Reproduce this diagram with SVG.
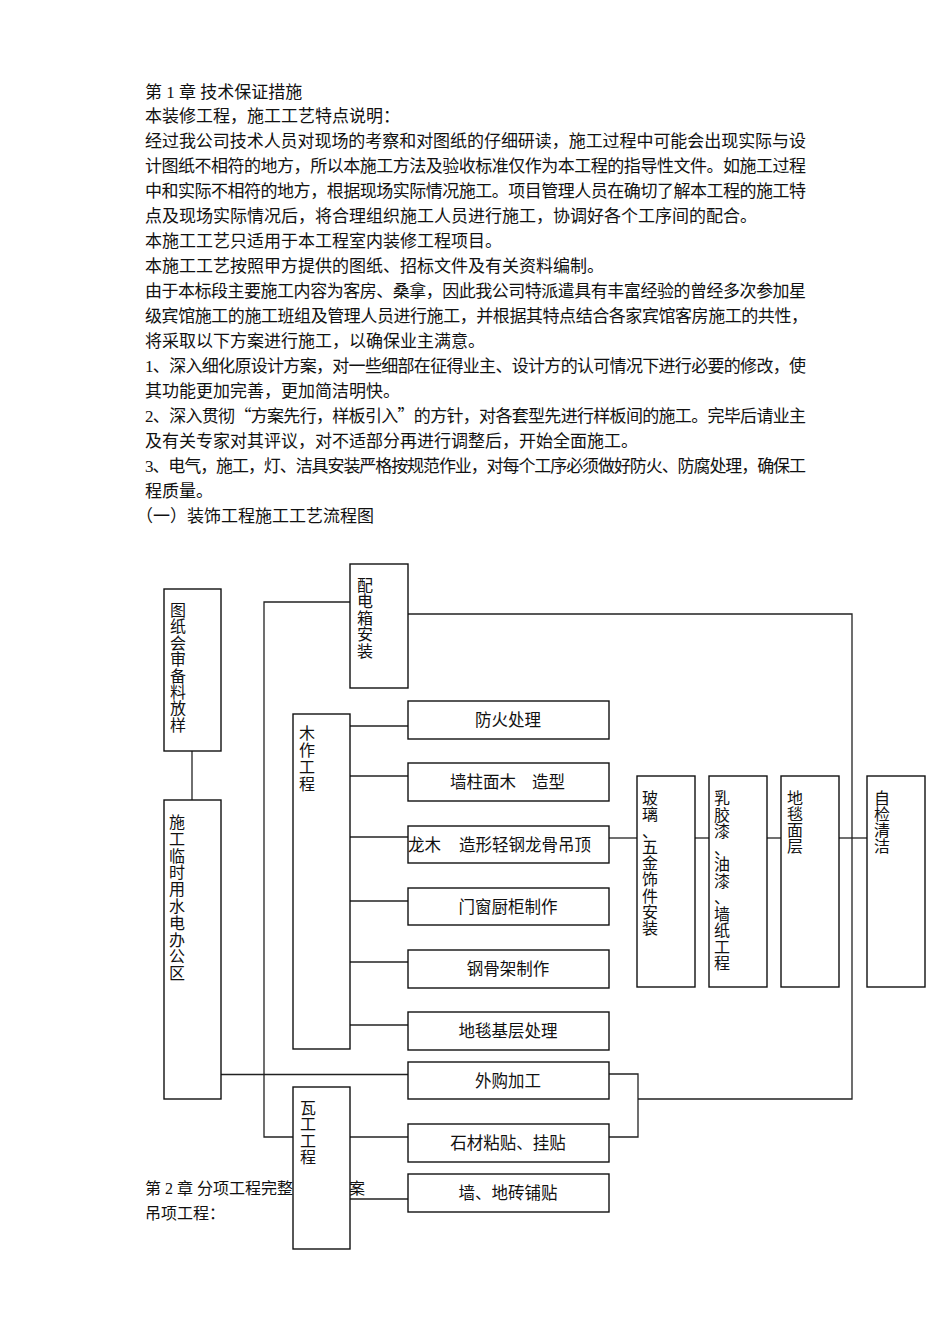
<svg xmlns="http://www.w3.org/2000/svg" width="950" height="1344" viewBox="0 0 950 1344">
<style>
.t{font-family:"Liberation Serif","Noto Sans CJK SC",serif;font-size:17px;fill:#111}
.b{font-family:"Liberation Serif","Noto Sans CJK SC",serif;font-size:16.5px;fill:#111}
.v{font-family:"Liberation Serif","Noto Sans CJK SC",serif;font-size:16px;fill:#111;text-anchor:middle}
.cj{font-family:"Noto Sans CJK SC",sans-serif}
.c{text-anchor:middle}
.box{fill:#fff;stroke:#111;stroke-width:1.4}
.ln{fill:none;stroke:#222;stroke-width:1.3}
</style>
<rect width="950" height="1344" fill="#fff"/>
<g id="body-text">
<text class="t" x="145" y="97.5">第 1 章 技术保证措施</text>
<text class="t" x="145" y="122.4">本装修工程，施工工艺特点说明：</text>
<text class="t" x="145" y="147.4" textLength="661" lengthAdjust="spacing">经过我公司技术人员对现场的考察和对图纸的仔细研读，施工过程中可能会出现实际与设</text>
<text class="t" x="145" y="172.3" textLength="661" lengthAdjust="spacing">计图纸不相符的地方，所以本施工方法及验收标准仅作为本工程的指导性文件。如施工过程</text>
<text class="t" x="145" y="197.3" textLength="661" lengthAdjust="spacing">中和实际不相符的地方，根据现场实际情况施工。项目管理人员在确切了解本工程的施工特</text>
<text class="t" x="145" y="222.2">点及现场实际情况后，将合理组织施工人员进行施工，协调好各个工序间的配合。</text>
<text class="t" x="145" y="247.1">本施工工艺只适用于本工程室内装修工程项目。</text>
<text class="t" x="145" y="272.1">本施工工艺按照甲方提供的图纸、招标文件及有关资料编制。</text>
<text class="t" x="145" y="297" textLength="661" lengthAdjust="spacing">由于本标段主要施工内容为客房、桑拿，因此我公司特派遣具有丰富经验的曾经多次参加星</text>
<text class="t" x="145" y="322" textLength="663" lengthAdjust="spacing">级宾馆施工的施工班组及管理人员进行施工，并根据其特点结合各家宾馆客房施工的共性，</text>
<text class="t" x="145" y="346.9">将采取以下方案进行施工，以确保业主满意。</text>
<text class="t" x="145" y="371.8" textLength="661" lengthAdjust="spacing">1、深入细化原设计方案，对一些细部在征得业主、设计方的认可情况下进行必要的修改，使</text>
<text class="t" x="145" y="396.8">其功能更加完善，更加简洁明快。</text>
<text class="t" x="145" y="421.7" textLength="661" lengthAdjust="spacing">2、深入贯彻<tspan class="cj">“</tspan>方案先行，样板引入<tspan class="cj">”</tspan>的方针，对各套型先进行样板间的施工。完毕后请业主</text>
<text class="t" x="145" y="446.7">及有关专家对其评议，对不适部分再进行调整后，开始全面施工。</text>
<text class="t" x="145" y="471.6" textLength="661" lengthAdjust="spacing">3、电气，施工，灯、洁具安装严格按规范作业，对每个工序必须做好防火、防腐处理，确保工</text>
<text class="t" x="145" y="496.5">程质量。</text>
<text class="t" x="136" y="521.5">（一）装饰工程施工工艺流程图</text>
<text class="t" x="145" y="1194" style="font-size:16px">第 2 章 分项工程完整</text>
<text class="t" x="349" y="1194" style="font-size:16px">案</text>
<text class="t" x="145" y="1219" style="font-size:16px">吊项工程：</text>
</g>
<g id="connectors">
<line class="ln" x1="192" y1="751" x2="192" y2="800"/>
<line class="ln" x1="221" y1="1074.5" x2="408" y2="1074.5"/>
<polyline class="ln" points="350,602 264,602 264,1137 293,1137"/>
<polyline class="ln" points="408,614 852,614 852,1099 638,1099"/>
<polyline class="ln" points="609,1074 638,1074 638,1137 609,1137"/>
<line class="ln" x1="350" y1="726" x2="408" y2="726"/>
<line class="ln" x1="350" y1="776" x2="408" y2="776"/>
<line class="ln" x1="350" y1="837" x2="408" y2="837"/>
<line class="ln" x1="350" y1="901" x2="408" y2="901"/>
<line class="ln" x1="350" y1="962" x2="408" y2="962"/>
<line class="ln" x1="350" y1="1025" x2="408" y2="1025"/>
<line class="ln" x1="350" y1="1137" x2="408" y2="1137"/>
<line class="ln" x1="350" y1="1199" x2="408" y2="1199"/>
<line class="ln" x1="609" y1="838" x2="637" y2="838"/>
<line class="ln" x1="695" y1="838" x2="709" y2="838"/>
<line class="ln" x1="767" y1="838" x2="781" y2="838"/>
<line class="ln" x1="839" y1="838" x2="867" y2="838"/>
</g>
<g id="n-tuzhi">
<rect class="box" x="164" y="589" width="57" height="162"/>
<text class="v" x="178"><tspan x="178" y="616">图</tspan><tspan x="178" y="632.4">纸</tspan><tspan x="178" y="648.8">会</tspan><tspan x="178" y="665.2">审</tspan><tspan x="178" y="681.6">备</tspan><tspan x="178" y="698">料</tspan><tspan x="178" y="714.4">放</tspan><tspan x="178" y="730.8">样</tspan></text>
</g>
<g id="n-linshi">
<rect class="box" x="164" y="800" width="57" height="299"/>
<text class="v" x="177"><tspan x="177" y="828">施</tspan><tspan x="177" y="844.8">工</tspan><tspan x="177" y="861.6">临</tspan><tspan x="177" y="878.4">时</tspan><tspan x="177" y="895.2">用</tspan><tspan x="177" y="912">水</tspan><tspan x="177" y="928.8">电</tspan><tspan x="177" y="945.6">办</tspan><tspan x="177" y="962.4">公</tspan><tspan x="177" y="979.2">区</tspan></text>
</g>
<g id="n-peidian">
<rect class="box" x="350" y="564" width="58" height="124"/>
<text class="v" x="365"><tspan x="365" y="591">配</tspan><tspan x="365" y="607.4">电</tspan><tspan x="365" y="623.8">箱</tspan><tspan x="365" y="640.2">安</tspan><tspan x="365" y="656.6">装</tspan></text>
</g>
<g id="n-muzuo">
<rect class="box" x="293" y="714" width="57" height="335"/>
<text class="v" x="307"><tspan x="307" y="739">木</tspan><tspan x="307" y="756">作</tspan><tspan x="307" y="773">工</tspan><tspan x="307" y="790">程</tspan></text>
</g>
<g id="n-wagong">
<rect class="box" x="293" y="1087" width="57" height="162"/>
<text class="v" x="308"><tspan x="308" y="1114">瓦</tspan><tspan x="308" y="1130.4">工</tspan><tspan x="308" y="1146.8">工</tspan><tspan x="308" y="1163.2">程</tspan></text>
</g>
<g id="n-fanghuo">
<rect class="box" x="408" y="701" width="201" height="38"/>
<text class="b c" x="508" y="726">防火处理</text>
</g>
<g id="n-qiangzhu">
<rect class="box" x="408" y="763" width="201" height="38"/>
<text class="b" x="450" y="788">墙柱面木</text>
<text class="b" x="532" y="788">造型</text>
</g>
<g id="n-longgu">
<rect class="box" x="408" y="826" width="201" height="37"/>
<text class="b" x="408" y="850.5">龙木</text>
<text class="b" x="459" y="850.5">造形轻钢龙骨吊顶</text>
</g>
<g id="n-menchuang">
<rect class="box" x="408" y="888" width="201" height="37"/>
<text class="b c" x="508" y="912.5">门窗厨柜制作</text>
</g>
<g id="n-gangguj">
<rect class="box" x="408" y="950" width="201" height="38"/>
<text class="b c" x="508" y="975">钢骨架制作</text>
</g>
<g id="n-ditanjc">
<rect class="box" x="408" y="1012" width="201" height="38"/>
<text class="b c" x="508" y="1037">地毯基层处理</text>
</g>
<g id="n-waigou">
<rect class="box" x="408" y="1062" width="201" height="37"/>
<text class="b c" x="508" y="1086.5">外购加工</text>
</g>
<g id="n-shicai">
<rect class="box" x="408" y="1124" width="201" height="38"/>
<text class="b c" x="508" y="1149">石材粘贴、挂贴</text>
</g>
<g id="n-qiangdi">
<rect class="box" x="408" y="1174" width="201" height="38"/>
<text class="b c" x="508" y="1199">墙、地砖铺贴</text>
</g>
<g id="n-boli">
<rect class="box" x="637" y="776" width="58" height="211"/>
<text class="v" x="650"><tspan x="650" y="804">玻</tspan><tspan x="650" y="820.25">璃</tspan><tspan x="650" y="836.5">、</tspan><tspan x="650" y="852.75">五</tspan><tspan x="650" y="869">金</tspan><tspan x="650" y="885.25">饰</tspan><tspan x="650" y="901.5">件</tspan><tspan x="650" y="917.75">安</tspan><tspan x="650" y="934">装</tspan></text>
</g>
<g id="n-rujiao">
<rect class="box" x="709" y="776" width="58" height="211"/>
<text class="v" x="722"><tspan x="722" y="804">乳</tspan><tspan x="722" y="820.5">胶</tspan><tspan x="722" y="837">漆</tspan><tspan x="722" y="853.5">、</tspan><tspan x="722" y="870">油</tspan><tspan x="722" y="886.5">漆</tspan><tspan x="722" y="903">、</tspan><tspan x="722" y="919.5">墙</tspan><tspan x="722" y="936">纸</tspan><tspan x="722" y="952.5">工</tspan><tspan x="722" y="969">程</tspan></text>
</g>
<g id="n-ditanmc">
<rect class="box" x="781" y="776" width="58" height="211"/>
<text class="v" x="795"><tspan x="795" y="804">地</tspan><tspan x="795" y="820">毯</tspan><tspan x="795" y="836">面</tspan><tspan x="795" y="852">层</tspan></text>
</g>
<g id="n-zijian">
<rect class="box" x="867" y="776" width="58" height="211"/>
<text class="v" x="882"><tspan x="882" y="804">自</tspan><tspan x="882" y="820">检</tspan><tspan x="882" y="836">清</tspan><tspan x="882" y="852">洁</tspan></text>
</g>
</svg>
